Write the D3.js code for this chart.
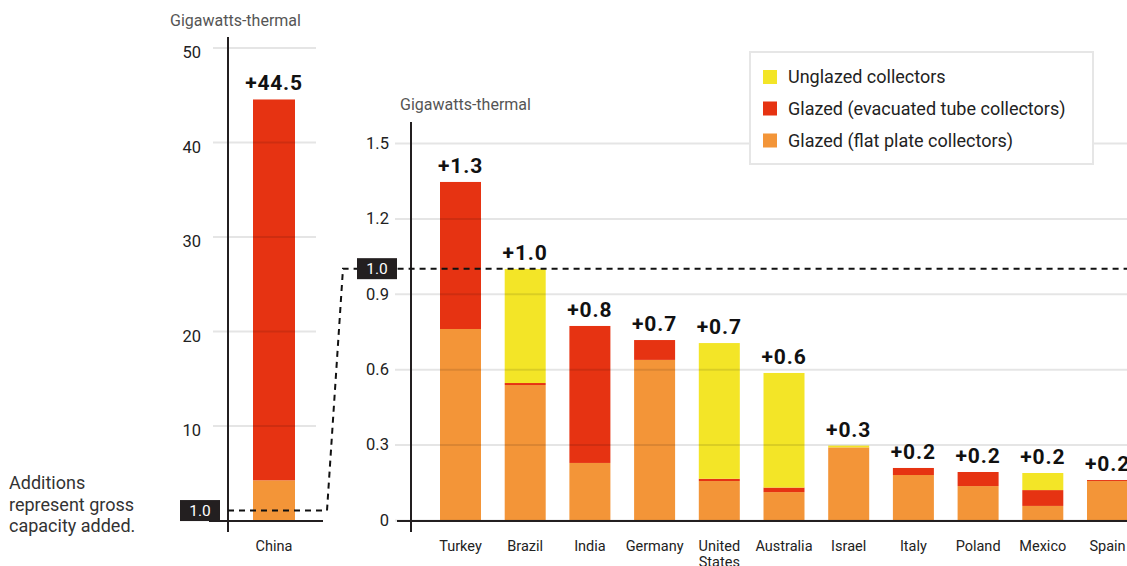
<!DOCTYPE html>
<html>
<head>
<meta charset="utf-8">
<script src="https://cdn.jsdelivr.net/npm/d3@7"></script>
<style>
  html, body { margin: 0; padding: 0; background: #fff; }
  svg { display: block; font-family: Roboto, "Liberation Sans", sans-serif; }
</style>
</head>
<body>
<svg id="chart" width="1127" height="566"></svg>
<script>
// ---------------- DATA ----------------
const countries = ["Turkey", "Brazil", "India", "Germany", "United States", "Australia",
                   "Israel", "Italy", "Poland", "Mexico", "Spain"];
const flatPlate     = [0.760, 0.537, 0.227, 0.637, 0.155, 0.111, 0.289, 0.179, 0.135, 0.056, 0.155];
const evacuatedTube = [0.585, 0.008, 0.545, 0.079, 0.009, 0.018, 0.000, 0.028, 0.056, 0.063, 0.004];
const unglazed      = [0.000, 0.454, 0.000, 0.000, 0.540, 0.456, 0.007, 0.000, 0.000, 0.068, 0.000];
const totalLabels   = ["+1.3", "+1.0", "+0.8", "+0.7", "+0.7", "+0.6", "+0.3", "+0.2", "+0.2", "+0.2", "+0.2"];

const chinaCategory  = ["China"];
const chinaFlat      = [4.2];
const chinaEvacuated = [40.3];
const chinaUnglazed  = [0];
const chinaLabels    = ["+44.5"];

const leftTicks  = [10, 20, 30, 40, 50];
const rightTicks = [0, 0.3, 0.6, 0.9, 1.2, 1.5];
const refValue   = 1.0;

const seriesKeys   = ["flat", "evac", "unglazed"];
const seriesNames  = { unglazed: "Unglazed collectors", evac: "Glazed (evacuated tube collectors)", flat: "Glazed (flat plate collectors)" };
const legendOrder  = ["unglazed", "evac", "flat"];
const colors = { flat: "#f39538", evac: "#e63312", unglazed: "#f3e527" };

// ---------------- SETUP ----------------
const svg = d3.select("#chart");
const ink = "#231f20";
const gridColor = "rgba(0,0,0,0.10)";

const rows = countries.map((c, i) => ({ country: c, flat: flatPlate[i], evac: evacuatedTube[i], unglazed: unglazed[i] }));
const chinaRows = chinaCategory.map((c, i) => ({ country: c, flat: chinaFlat[i], evac: chinaEvacuated[i], unglazed: chinaUnglazed[i] }));

const stack = d3.stack().keys(seriesKeys);

// scales
const yL = d3.scaleLinear().domain([0, 50]).range([520, 47.5]);
const yR = d3.scaleLinear().domain([0, 1.5]).range([520, 143]);
const xL = d3.scaleBand().domain(chinaCategory).range([253, 295]).padding(0);
const xR = d3.scaleBand().domain(countries).range([428.15, 1139.85]).paddingInner(0.3663).paddingOuter(0.18315);

// ---------------- LEFT PANEL ----------------
svg.append("text").attr("x", 170).attr("y", 26)
  .attr("font-size", 16).attr("fill", "#555").text("Gigawatts-thermal");

// bars
const gL = svg.append("g");
gL.selectAll("g").data(stack(chinaRows)).join("g")
  .attr("fill", d => colors[d.key])
  .selectAll("rect").data(d => d).join("rect")
  .attr("x", d => xL(d.data.country))
  .attr("width", xL.bandwidth())
  .attr("y", d => yL(d[1]))
  .attr("height", d => yL(d[0]) - yL(d[1]));

// gridlines + tick labels (axis)
const axL = svg.append("g").attr("transform", "translate(316,0)")
  .call(d3.axisLeft(yL).tickValues(leftTicks).tickSize(103).tickPadding(12).tickFormat(d3.format("d")));
axL.select(".domain").remove();
axL.selectAll(".tick line").attr("stroke", gridColor).attr("stroke-width", 2);
axL.selectAll(".tick text").attr("font-size", 16.5).attr("fill", "#222")
  .attr("font-family", "Roboto, sans-serif").attr("dy", "0.62em");

// category label
const axLB = svg.append("g").attr("transform", "translate(0,520)")
  .call(d3.axisBottom(xL).tickSize(0).tickPadding(21));
axLB.select(".domain").remove();
axLB.selectAll(".tick text").attr("font-size", 14.5).attr("fill", "#222").attr("font-family", "Roboto, sans-serif");

// total label
svg.append("g").selectAll("text").data(chinaRows).join("text")
  .attr("x", d => xL(d.country) + xL.bandwidth() / 2)
  .attr("y", d => yL(d.flat + d.evac + d.unglazed) - 9)
  .attr("text-anchor", "middle").attr("font-size", 21).attr("font-weight", 700)
  .attr("letter-spacing", 0.8).attr("fill", "#111")
  .text((d, i) => chinaLabels[i]);

// axis lines
svg.append("line").attr("x1", 228).attr("x2", 228).attr("y1", 37).attr("y2", 532).attr("stroke", ink).attr("stroke-width", 2);
svg.append("line").attr("x1", 209).attr("x2", 323).attr("y1", 521).attr("y2", 521).attr("stroke", ink).attr("stroke-width", 2);

// ---------------- RIGHT PANEL ----------------
svg.append("text").attr("x", 400).attr("y", 110)
  .attr("font-size", 16).attr("fill", "#555").text("Gigawatts-thermal");

const gR = svg.append("g");
gR.selectAll("g").data(stack(rows)).join("g")
  .attr("fill", d => colors[d.key])
  .selectAll("rect").data(d => d).join("rect")
  .attr("x", d => xR(d.data.country))
  .attr("width", xR.bandwidth())
  .attr("y", d => yR(d[1]))
  .attr("height", d => yR(d[0]) - yR(d[1]));

const axR = svg.append("g").attr("transform", "translate(1127,0)")
  .call(d3.axisLeft(yR).tickValues(rightTicks).tickSize(732).tickPadding(6)
        .tickFormat(d => d === 0 ? "0" : d3.format(".1f")(d)));
axR.select(".domain").remove();
axR.selectAll(".tick line").attr("stroke", gridColor).attr("stroke-width", 2);
axR.selectAll(".tick text").attr("font-size", 16.5).attr("fill", "#222").attr("font-family", "Roboto, sans-serif");

// category labels
const axRB = svg.append("g").attr("transform", "translate(0,520)")
  .call(d3.axisBottom(xR).tickSize(0).tickPadding(21));
axRB.select(".domain").remove();
axRB.selectAll(".tick text").attr("font-size", 14.5).attr("fill", "#222").attr("font-family", "Roboto, sans-serif")
  .each(function(d) {
    const words = d.split(" ");
    if (words.length > 1) {
      const t = d3.select(this);
      t.text(null);
      words.forEach((w, i) => {
        t.append("tspan").attr("x", 0).attr("dy", i === 0 ? "0.71em" : "1.1em").text(w);
      });
      t.attr("dy", null);
    }
  });

// total labels
svg.append("g").selectAll("text").data(rows).join("text")
  .attr("x", d => xR(d.country) + xR.bandwidth() / 2)
  .attr("y", d => yR(d.flat + d.evac + d.unglazed) - 9)
  .attr("text-anchor", "middle").attr("font-size", 21).attr("font-weight", 700)
  .attr("letter-spacing", 0.9).attr("fill", "#111")
  .text((d, i) => totalLabels[i]);

// axis lines
svg.append("line").attr("x1", 411).attr("x2", 411).attr("y1", 122).attr("y2", 532).attr("stroke", ink).attr("stroke-width", 2);
svg.append("line").attr("x1", 397).attr("x2", 1127).attr("y1", 521).attr("y2", 521).attr("stroke", ink).attr("stroke-width", 2);

// ---------------- CONNECTOR (1.0 reference) ----------------
const yRefL = yL(refValue), yRefR = yR(refValue);
svg.append("path")
  .attr("d", `M228,${yRefL} L327,${yRefL} L343,${yRefR} L1127,${yRefR}`)
  .attr("fill", "none").attr("stroke", "#111").attr("stroke-width", 2)
  .attr("stroke-dasharray", "6,5");

function refBox(x, yc) {
  svg.append("rect").attr("x", x).attr("y", yc - 10.5).attr("width", 40).attr("height", 21).attr("fill", ink);
  svg.append("text").attr("x", x + 20).attr("y", yc + 5.5).attr("text-anchor", "middle")
    .attr("font-size", 15.5).attr("fill", "#fff").text(d3.format(".1f")(refValue));
}
refBox(180, yRefL);
refBox(357, yRefR);

// ---------------- LEGEND ----------------
const lg = svg.append("g");
lg.append("rect").attr("x", 750).attr("y", 52).attr("width", 343).attr("height", 112)
  .attr("fill", "#fff").attr("stroke", "#e6e6e6").attr("stroke-width", 2);
const legendY = [77, 108.5, 140.5];
legendOrder.forEach((k, i) => {
  lg.append("rect").attr("x", 763).attr("y", legendY[i] - 7).attr("width", 14).attr("height", 14).attr("fill", colors[k]);
  lg.append("text").attr("x", 788).attr("y", legendY[i] + 6).attr("font-size", 18).attr("fill", "#222").text(seriesNames[k]);
});

// ---------------- NOTE ----------------
const note = svg.append("text").attr("x", 9).attr("font-size", 18).attr("fill", "#333");
["Additions", "represent gross", "capacity added."].forEach((s, i) => {
  note.append("tspan").attr("x", 9).attr("y", 489 + i * 21.5).text(s);
});
</script>
</body>
</html>
